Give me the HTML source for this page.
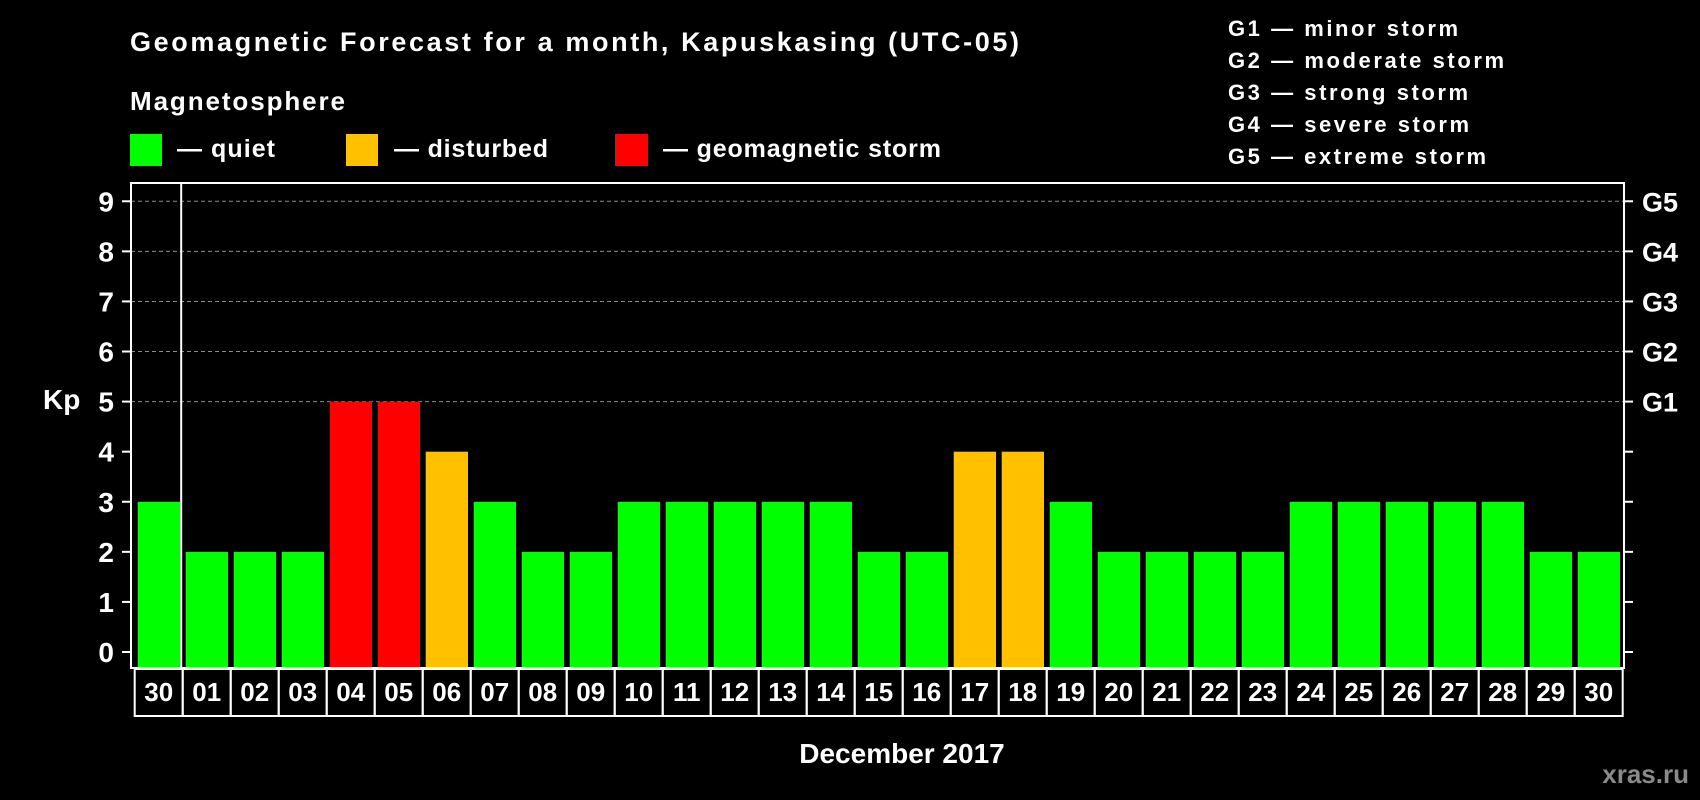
<!DOCTYPE html>
<html><head><meta charset="utf-8"><style>
html,body{margin:0;padding:0;background:#000;}
svg{display:block;font-family:"Liberation Sans",Arial,sans-serif;font-weight:bold;}
</style></head><body>
<svg id="chart" width="1700" height="800" viewBox="0 0 1700 800">
<rect x="0" y="0" width="1700" height="800" fill="#000"/>
<text x="130" y="51" fill="#fff" font-size="27" textLength="889">Geomagnetic Forecast for a month, Kapuskasing (UTC-05)</text>
<text x="130" y="110" fill="#fff" font-size="26" textLength="215">Magnetosphere</text>
<g>
<rect x="130" y="134" width="32" height="32" fill="#00ff00"/>
<text x="177" y="157" fill="#fff" font-size="25" textLength="98">— quiet</text></g>
<g>
<rect x="346" y="134" width="32" height="32" fill="#ffc000"/>
<text x="394" y="157" fill="#fff" font-size="25" textLength="154">— disturbed</text></g>
<g>
<rect x="615" y="134" width="33" height="32" fill="#ff0000"/>
<text x="663" y="157" fill="#fff" font-size="25" textLength="278">— geomagnetic storm</text></g>
<g font-size="22" fill="#fff">
<text x="1228" y="36" textLength="230">G1 — minor storm</text>
<text x="1228" y="68" textLength="276">G2 — moderate storm</text>
<text x="1228" y="100" textLength="240">G3 — strong storm</text>
<text x="1228" y="132" textLength="241">G4 — severe storm</text>
<text x="1228" y="164" textLength="258">G5 — extreme storm</text>
</g>
<text x="43" y="409" fill="#fff" font-size="28">Kp</text>
<text x="902" y="763" fill="#fff" font-size="28" text-anchor="middle">December 2017</text>
<text x="1689" y="783" fill="#8a8a8a" font-size="26" text-anchor="end">xras.ru</text>
<g id="grid"></g><g id="bars"></g><g id="axes"></g>
</svg>
<script>
const categories = ["30","01","02","03","04","05","06","07","08","09","10","11","12","13","14","15","16","17","18","19","20","21","22","23","24","25","26","27","28","29","30"];
const kpValues = [3,2,2,2,5,5,4,3,2,2,3,3,3,3,3,2,2,4,4,3,2,2,2,2,3,3,3,3,3,2,2];
const yTicks = [0,1,2,3,4,5,6,7,8,9];
const gLabels = ["G1","G2","G3","G4","G5"];
const gLevels = [5,6,7,8,9];

const NS = "http://www.w3.org/2000/svg";
const plotL = 131, plotR = 1624, plotT = 183, plotB = 668;
const slot0 = 134.7, slotW = 48;
function yScale(v){ return 652 - v * 50.08; }
function xSlot(i){ return slot0 + i * slotW; }
function mk(tag, attrs, parent){ const e = document.createElementNS(NS, tag); for (const k in attrs) e.setAttribute(k, attrs[k]); parent.appendChild(e); return e; }
function color(v){ return v >= 5 ? "#ff0000" : (v >= 4 ? "#ffc000" : "#00ff00"); }

const grid = document.getElementById("grid");
const bars = document.getElementById("bars");
const axes = document.getElementById("axes");

gLevels.forEach((lv, i) => {
  const y = yScale(lv);
  const l = mk("line", {x1: plotL, x2: plotR, y1: y, y2: y, stroke: "#8c8c8c", "stroke-width": 1, "stroke-dasharray": "4,3"}, grid);
  
  
  const t = mk("text", {x: 1642, y: y + 10, fill: "#fff", "font-size": 27}, axes);
  t.textContent = gLabels[i];
  
  
});

kpValues.forEach((v, i) => {
  const y = yScale(v);
  const r = mk("rect", {x: xSlot(i) + 3, y: y, width: 42.3, height: plotB - y, fill: color(v)}, bars);
  
  
});

yTicks.forEach(v => {
  const y = yScale(v);
  const t1 = mk("line", {x1: 122, x2: plotL, y1: y, y2: y, stroke: "#fff", "stroke-width": 2}, axes);
  
  
  const t2 = mk("line", {x1: plotR, x2: 1633, y1: y, y2: y, stroke: "#fff", "stroke-width": 2}, axes);
  
  
  const lb = mk("text", {x: 114, y: y + 10, fill: "#fff", "font-size": 28, "text-anchor": "end"}, axes);
  lb.textContent = String(v);
  
  
});

const frame = mk("rect", {x: plotL, y: plotT, width: plotR - plotL, height: plotB - plotT, fill: "none", stroke: "#fff", "stroke-width": 2}, axes);


const div = mk("line", {x1: xSlot(1) - 1.5, x2: xSlot(1) - 1.5, y1: plotT, y2: plotB, stroke: "#fff", "stroke-width": 2}, axes);



categories.forEach((c, i) => {
  const x = xSlot(i);
  const b = mk("rect", {x: x, y: 669, width: slotW, height: 47, fill: "none", stroke: "#fff", "stroke-width": 2}, axes);
  
  
  const t = mk("text", {x: x + slotW / 2, y: 701, fill: "#fff", "font-size": 26, "text-anchor": "middle"}, axes);
  t.textContent = c;
  
  
});
</script>
</body></html>
